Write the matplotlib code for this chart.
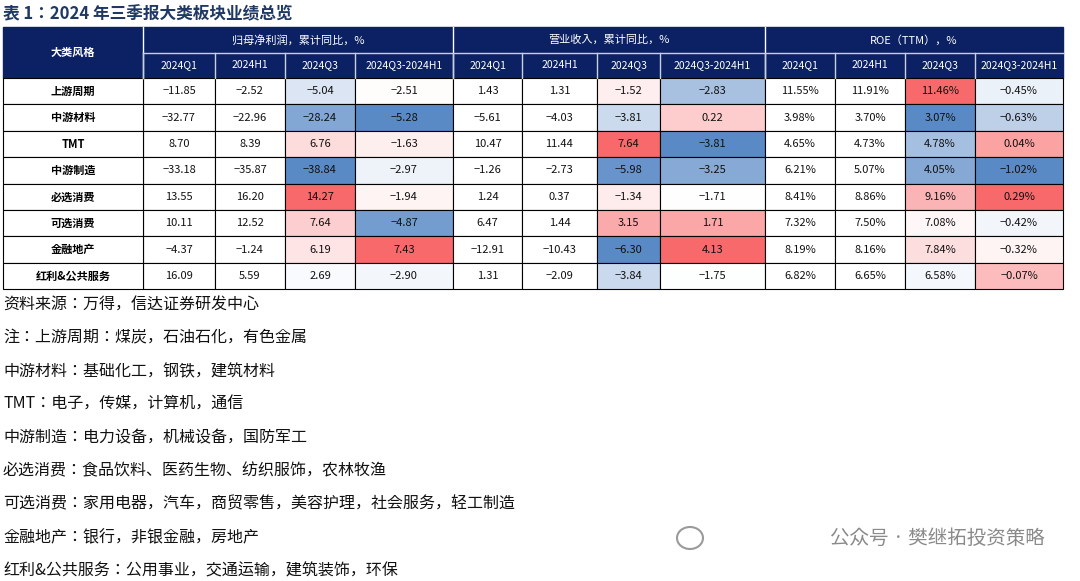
import matplotlib
matplotlib.use("Agg")
import matplotlib.pyplot as plt
from matplotlib.patches import Rectangle, Ellipse
import numpy as np

plt.rcParams["font.family"] = ["Noto Sans CJK JP", "Noto Sans CJK SC", "Noto Sans CJK TC", "Noto Sans CJK KR", "DejaVu Sans"]

title = "表 1：2024 年三季报大类板块业绩总览"
categories = ["上游周期", "中游材料", "TMT", "中游制造", "必选消费", "可选消费", "金融地产", "红利&公共服务"]
groups = ["归母净利润，累计同比，%", "营业收入，累计同比，%", "ROE（TTM），%"]
periods = ["2024Q1", "2024H1", "2024Q3", "2024Q3-2024H1"]

profit = [[-11.85, -2.52, -5.04, -2.51], [-32.77, -22.96, -28.24, -5.28], [8.70, 8.39, 6.76, -1.63],
          [-33.18, -35.87, -38.84, -2.97], [13.55, 16.20, 14.27, -1.94], [10.11, 12.52, 7.64, -4.87],
          [-4.37, -1.24, 6.19, 7.43], [16.09, 5.59, 2.69, -2.90]]
revenue = [[1.43, 1.31, -1.52, -2.83], [-5.61, -4.03, -3.81, 0.22], [10.47, 11.44, 7.64, -3.81],
           [-1.26, -2.73, -5.98, -3.25], [1.24, 0.37, -1.34, -1.71], [6.47, 1.44, 3.15, 1.71],
           [-12.91, -10.43, -6.30, 4.13], [1.31, -2.09, -3.84, -1.75]]
roe = [[11.55, 11.91, 11.46, -0.45], [3.98, 3.70, 3.07, -0.63], [4.65, 4.73, 4.78, 0.04],
       [6.21, 5.07, 4.05, -1.02], [8.41, 8.86, 9.16, 0.29], [7.32, 7.50, 7.08, -0.42],
       [8.19, 8.16, 7.84, -0.32], [6.82, 6.65, 6.58, -0.07]]

notes = ["资料来源：万得，信达证券研发中心",
         "注：上游周期：煤炭，石油石化，有色金属",
         "中游材料：基础化工，钢铁，建筑材料",
         "TMT：电子，传媒，计算机，通信",
         "中游制造：电力设备，机械设备，国防军工",
         "必选消费：食品饮料、医药生物、纺织服饰，农林牧渔",
         "可选消费：家用电器，汽车，商贸零售，美容护理，社会服务，轻工制造",
         "金融地产：银行，非银金融，房地产",
         "红利&公共服务：公用事业，交通运输，建筑装饰，环保"]
watermark = "公众号 · 樊继拓投资策略"

NAVY = "#0b2163"
BLUE = np.array([0x5a, 0x8a, 0xc6]) / 255
WHITE = np.array([1.0, 1.0, 1.0])
RED = np.array([0xf8, 0x69, 0x6b]) / 255

def scale_colors(vals):
    v = np.array(vals, float)
    lo, hi, mid = v.min(), v.max(), np.median(v)
    out = []
    for x in v:
        if x <= mid:
            t = 0 if mid == lo else (mid - x) / (mid - lo)
            out.append(WHITE + (BLUE - WHITE) * t)
        else:
            t = (x - mid) / (hi - mid)
            out.append(WHITE + (RED - WHITE) * t)
    return out

fig = plt.figure(figsize=(10.8, 5.81), dpi=100)
ax = fig.add_axes([0, 0, 1, 1])
ax.set_xlim(0, 1080)
ax.set_ylim(581, 0)
ax.axis("off")

ax.text(3, 14, title, fontsize=12, fontweight="bold", color="#1f3864", va="center", ha="left")

xs = [3, 143, 215, 285, 355, 453, 522, 597, 660, 765, 835, 905, 975, 1063]
y0, y1, y2 = 27, 53, 78
rh = 26.4

ax.add_patch(Rectangle((xs[0], y0), xs[-1] - xs[0], y2 - y0, color=NAVY, zorder=1))
ax.text((xs[0] + xs[1]) / 2, (y0 + y2) / 2, "大类风格", color="white", fontsize=8, fontweight="bold", ha="center", va="center")
for g, name in enumerate(groups):
    xa, xb = xs[1 + 4 * g], xs[5 + 4 * g]
    ax.text((xa + xb) / 2, (y0 + y1) / 2, name, color="white", fontsize=8, ha="center", va="center")
    ax.plot([xa, xa], [y0, y2], color="white", lw=1, zorder=3)
    for j, p in enumerate(periods):
        ca, cb = xs[1 + 4 * g + j], xs[2 + 4 * g + j]
        ax.text((ca + cb) / 2, (y1 + y2) / 2, p, color="white", fontsize=7.5, ha="center", va="center")
        ax.plot([ca, ca], [y1, y2], color="#c8d0e0", lw=1, zorder=3)
ax.plot([xs[1], xs[-1]], [y1, y1], color="#c8d0e0", lw=1, zorder=3)

datasets = [profit, revenue, roe]
for g, data in enumerate(datasets):
    arr = np.array(data)
    for j in range(4):
        cols = scale_colors(arr[:, j]) if j >= 2 else [WHITE] * len(categories)
        for i in range(len(categories)):
            ca, cb = xs[1 + 4 * g + j], xs[2 + 4 * g + j]
            top = y2 + i * rh
            ax.add_patch(Rectangle((ca, top), cb - ca, rh, facecolor=cols[i], edgecolor="black", lw=0.8, zorder=2))
            s = f"{arr[i, j]:.2f}%" if g == 2 else f"{arr[i, j]:.2f}"
            s = s.replace("-", "−")
            ax.text((ca + cb) / 2, top + rh / 2, s, fontsize=8, ha="center", va="center", zorder=4, color="#111111")
for i, c in enumerate(categories):
    top = y2 + i * rh
    ax.add_patch(Rectangle((xs[0], top), xs[1] - xs[0], rh, facecolor="white", edgecolor="black", lw=0.8, zorder=2))
    ax.text((xs[0] + xs[1]) / 2, top + rh / 2, c, fontsize=8, fontweight="bold", ha="center", va="center", zorder=4)

for k, n in enumerate(notes):
    ax.text(3, 305 + k * 33.2, n, fontsize=11.5, ha="left", va="center", color="#111111")

ax.text(1045, 538, watermark, fontsize=14, ha="right", va="center", color="#8a8a8a")
ax.add_patch(Ellipse((690, 538), 26, 22, facecolor="none", edgecolor="#9a9a9a", lw=1.5))

fig.savefig("out.png", dpi=100)
